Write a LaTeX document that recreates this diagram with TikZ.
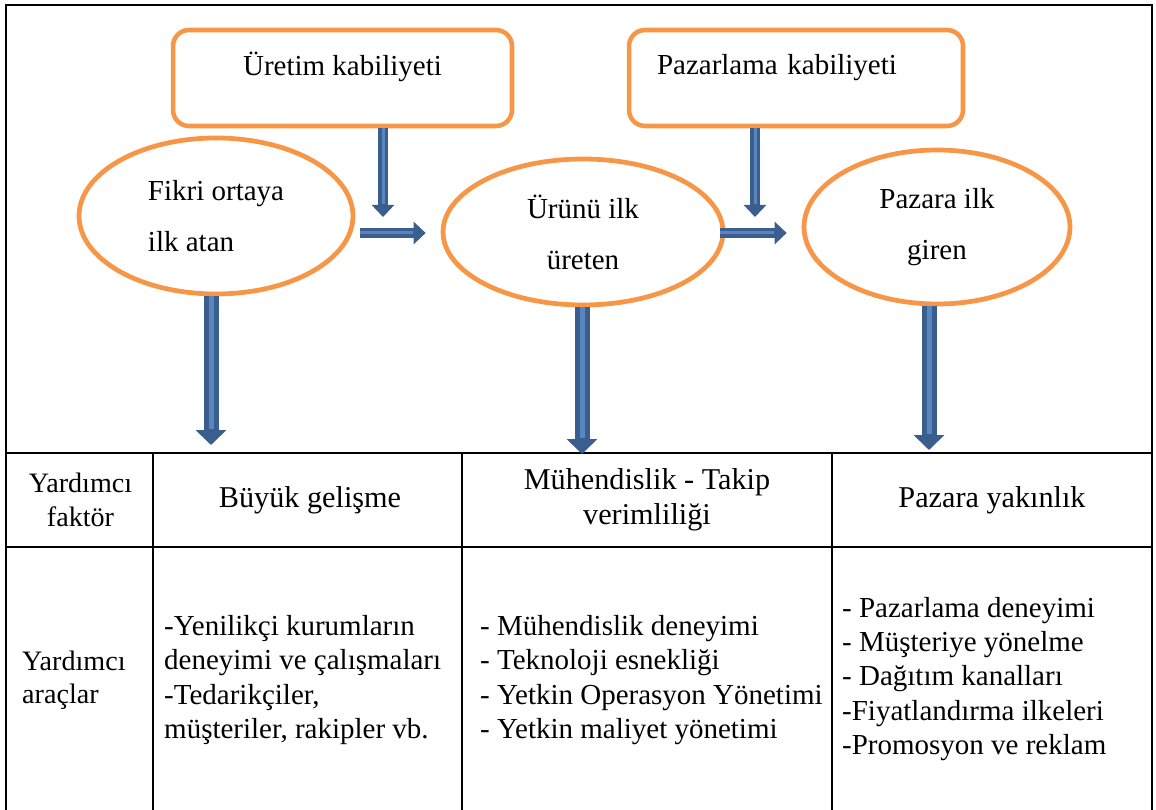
\documentclass[tikz,border=0pt]{standalone}
\usepackage{fontspec}
\setmainfont{Liberation Serif}
\usetikzlibrary{positioning, shapes.geometric, arrows.meta}
\definecolor{boxorange}{HTML}{F79646}
\definecolor{arrowdark}{HTML}{3A5E8E}
\definecolor{arrowlight}{HTML}{5A86C0}

\begin{document}
\begin{tikzpicture}[x=0.02cm, y=-0.02cm,
    capbox/.style={draw=boxorange, line width=2.6pt, rounded corners=0.32cm, minimum height=1.92cm, text depth=0.55cm, font=\fontsize{16.5}{20}\selectfont},
    idea/.style={draw=boxorange, line width=2.7pt, ellipse, inner sep=0pt, font=\fontsize{16.5}{29}\selectfont},
    pushs/.style={draw=arrowdark, line width=0.2cm, -{Triangle[width=0.44cm, length=0.24cm]}, postaction={draw=arrowlight, line width=0.06cm, -, shorten >=0.26cm}},
    pushl/.style={draw=arrowdark, line width=0.3cm, -{Triangle[width=0.6cm, length=0.3cm]}, postaction={draw=arrowlight, line width=0.1cm, -, shorten >=0.32cm}},
    rule/.style={line width=1.3pt},
    cellhead/.style={align=center, font=\fontsize{17.2}{20}\selectfont},
    celltext/.style={anchor=west, align=left, font=\fontsize{16.5}{19.5}\selectfont}]
    \useasboundingbox (0,0) rectangle (1156,810);

    % Frame and table
    \draw[rule] (6,814) -- (6,5) -- (1152,5) -- (1152,814);
    \draw[rule] (6,453) -- (1152,453);
    \draw[rule] (6,547) -- (1152,547);
    \foreach \xcol in {153,462,832}
        \draw[rule] (\xcol,453) -- (\xcol,814);

    % Nodes
    \node[capbox, minimum width=6.78cm] (uretim) at (342.5,78) {Üretim kabiliyeti};
    \node[capbox, text width=5.56cm, inner xsep=0.56cm, align=left] (pazarlama) at (796,78) {Pazarlama kabiliyeti};

    \node[idea, minimum width=5.48cm, minimum height=3.12cm, align=left] (fikri) at (216,216) {Fikri ortaya\\ilk atan};
    \node[idea, minimum width=5.6cm, minimum height=2.92cm, align=center] (urun) at (583,232) {Ürünü ilk\\üreten};
    \node[idea, minimum width=5.32cm, minimum height=3.08cm, align=center] (pazara) at (937,227) {Pazara ilk\\giren};

    \node[align=center, font=\fontsize{16}{19}\selectfont] (faktor) at (80.5,500) {Yardımcı\\faktör};
    \node[cellhead] (gelisme) at (310,500) {Büyük gelişme};
    \node[cellhead] (verim) at (647,500) {Mühendislik - Takip\\verimliliği};
    \node[cellhead] (yakin) at (992,500) {Pazara yakınlık};

    \node[celltext, font=\fontsize{16}{19}\selectfont] (araclar) at (16,680) {Yardımcı\\araçlar};
    \node[celltext] (yenilik) at (158,680) {-Yenilikçi kurumların\\deneyimi ve çalışmaları\\-Tedarikçiler,\\müşteriler, rakipler vb.};
    \node[celltext] (muhendis) at (474,680) {- Mühendislik deneyimi\\- Teknoloji esnekliği\\- Yetkin Operasyon Yönetimi\\- Yetkin maliyet yönetimi};
    \node[celltext] (pazarlik) at (836,679) {- Pazarlama deneyimi\\- Müşteriye yönelme\\- Dağıtım kanalları\\-Fiyatlandırma ilkeleri\\-Promosyon ve reklam};

    % Arrow ends
    \coordinate (u1) at (383,217);
    \coordinate (p1) at (755,217);
    \coordinate (midrow) at (0,233);
    \coordinate (f1) at (211,445);
    \coordinate (ur1) at (582,454);
    \coordinate (pz1) at (929,450);

    % Connections
    \draw[pushs] (uretim.south -| u1) -- (u1);
    \draw[pushs] (pazarlama.south -| p1) -- (p1);
    \draw[pushs] ([xshift=0.1cm]fikri.east |- midrow) -- ([xshift=-0.3cm]urun.west |- midrow);
    \draw[pushs] ([xshift=-0.1cm]urun.east |- midrow) -- ([xshift=-0.3cm]pazara.west |- midrow);
    \draw[pushl] (fikri.south -| f1) -- (f1);
    \draw[pushl] (urun.south -| ur1) -- (ur1);
    \draw[pushl] (pazara.south -| pz1) -- (pz1);
\end{tikzpicture}
\end{document}
